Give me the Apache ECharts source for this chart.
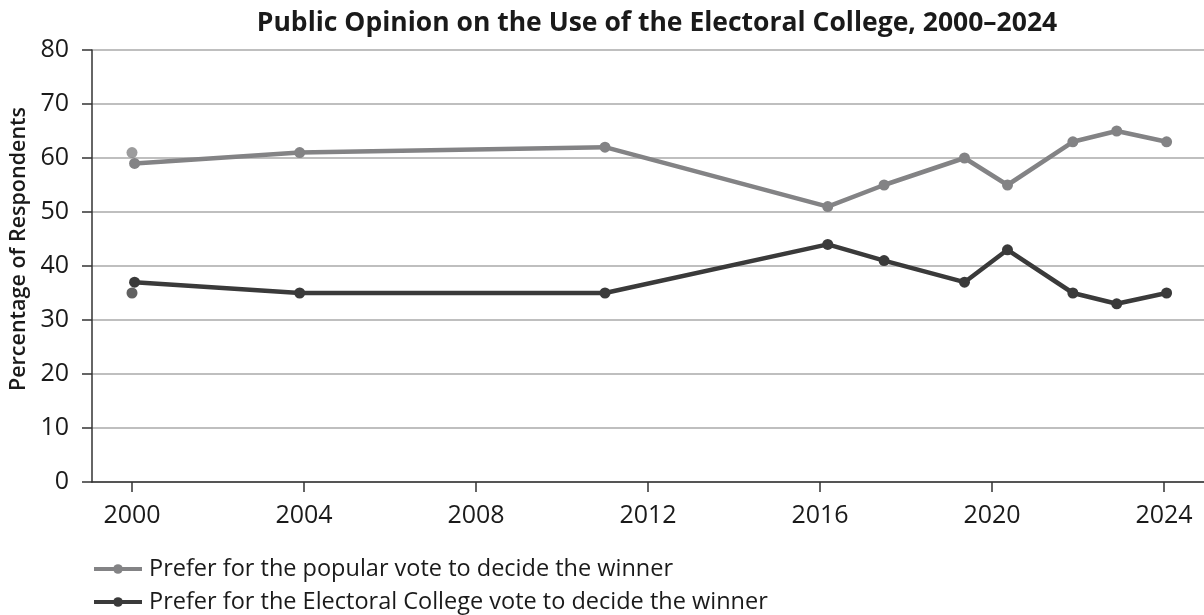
<!DOCTYPE html>
<html>
<head>
<meta charset="utf-8">
<script src="https://cdn.jsdelivr.net/npm/echarts@6/dist/echarts.min.js"></script>
<style>
html,body{margin:0;padding:0;background:#fff;}
#chart{width:1204px;height:615px;}
</style>
</head>
<body>
<div id="chart"></div>
<script>
const titleText = 'Public Opinion on the Use of the Electoral College, 2000–2024';
const yAxisName = 'Percentage of Respondents';
const seriesNames = ['Prefer for the popular vote to decide the winner', 'Prefer for the Electoral College vote to decide the winner'];
const xTickYears = [2000, 2004, 2008, 2012, 2016, 2020, 2024];
const yTicks = [0, 10, 20, 30, 40, 50, 60, 70, 80];

// survey dates (fractional years) and values
const lineYears = [2000.06, 2003.9, 2011.0, 2016.18, 2017.49, 2019.36, 2020.36, 2021.88, 2022.9, 2024.06];
const popularValues = [59, 61, 62, 51, 55, 60, 55, 63, 65, 63];
const electoralValues = [37, 35, 35, 44, 41, 37, 43, 35, 33, 35];
// separate early-2000 poll (unconnected point)
const extraYear = [2000.0];
const extraPopular = [61];
const extraElectoral = [35];

const popColor = '#838385';
const eleColor = '#3a3a3a';
const FONT = 'Open Sans';

const pair = (xs, ys) => xs.map((x, i) => [x, ys[i]]);

const legendCommon = {
  orient: 'horizontal', left: 92, itemGap: 0, padding: 0,
  itemWidth: 48, itemHeight: 12,
  lineStyle: {width: 4},
  textStyle: {fontFamily: FONT, fontSize: 23.5, color: '#1a1a1a', lineHeight: 28, padding: [0, 0, 0, 2]}
};

const chart = echarts.init(document.getElementById('chart'), null, {renderer: 'canvas'});
chart.setOption({
  animation: false,
  backgroundColor: '#ffffff',
  title: {
    text: titleText,
    left: 652, top: 5, textAlign: 'center',
    textStyle: {fontFamily: FONT, fontWeight: 'bold', fontSize: 26.5, color: '#1a1a1a'}
  },
  grid: {left: 92, right: 0, top: 50, bottom: 133, containLabel: false, outerBoundsMode: 'none'},
  legend: [
    Object.assign({}, legendCommon, {top: 555, data: [seriesNames[0]]}),
    Object.assign({}, legendCommon, {top: 588, data: [seriesNames[1]]})
  ],
  xAxis: {
    type: 'value', min: 1999.07, max: 2024.93,
    axisLine: {show: true, lineStyle: {color: '#333', width: 1.5}},
    axisTick: {show: true, customValues: xTickYears, length: 10, lineStyle: {color: '#333', width: 1.5}},
    axisLabel: {customValues: xTickYears, margin: 21, fontFamily: FONT, fontSize: 25, color: '#1a1a1a', formatter: v => String(Math.round(v))},
    splitLine: {show: false}
  },
  yAxis: {
    type: 'value', min: 0, max: 80, interval: 10,
    name: yAxisName, nameLocation: 'middle', nameGap: 56, nameRotate: 90,
    nameTextStyle: {fontFamily: FONT, fontSize: 21.5, fontWeight: 600, color: '#1a1a1a', padding: [0, 0, 0, 34]},
    axisLine: {show: true, lineStyle: {color: '#333', width: 1.5}},
    axisTick: {show: true, length: 10, inside: false, lineStyle: {color: '#333', width: 1.5}},
    axisLabel: {margin: 23, fontFamily: FONT, fontSize: 25, color: '#1a1a1a', formatter: v => yTicks.includes(v) ? String(v) : ''},
    splitLine: {show: true, lineStyle: {color: '#aaaaaa', width: 1.5}}
  },
  series: [
    {
      name: seriesNames[0], type: 'line', data: pair(lineYears, popularValues),
      symbol: 'circle', symbolSize: 11, showSymbol: true,
      lineStyle: {color: popColor, width: 4.5}, itemStyle: {color: popColor}, z: 3
    },
    {
      name: seriesNames[1], type: 'line', data: pair(lineYears, electoralValues),
      symbol: 'circle', symbolSize: 11, showSymbol: true,
      lineStyle: {color: eleColor, width: 4.5}, itemStyle: {color: eleColor}, z: 3
    },
    {
      type: 'scatter', data: pair(extraYear, extraPopular), symbol: 'circle', symbolSize: 11,
      itemStyle: {color: popColor}, z: 3
    },
    {
      type: 'scatter', data: pair(extraYear, extraElectoral), symbol: 'circle', symbolSize: 11,
      itemStyle: {color: eleColor}, z: 3
    }
  ]
});
</script>
</body>
</html>
